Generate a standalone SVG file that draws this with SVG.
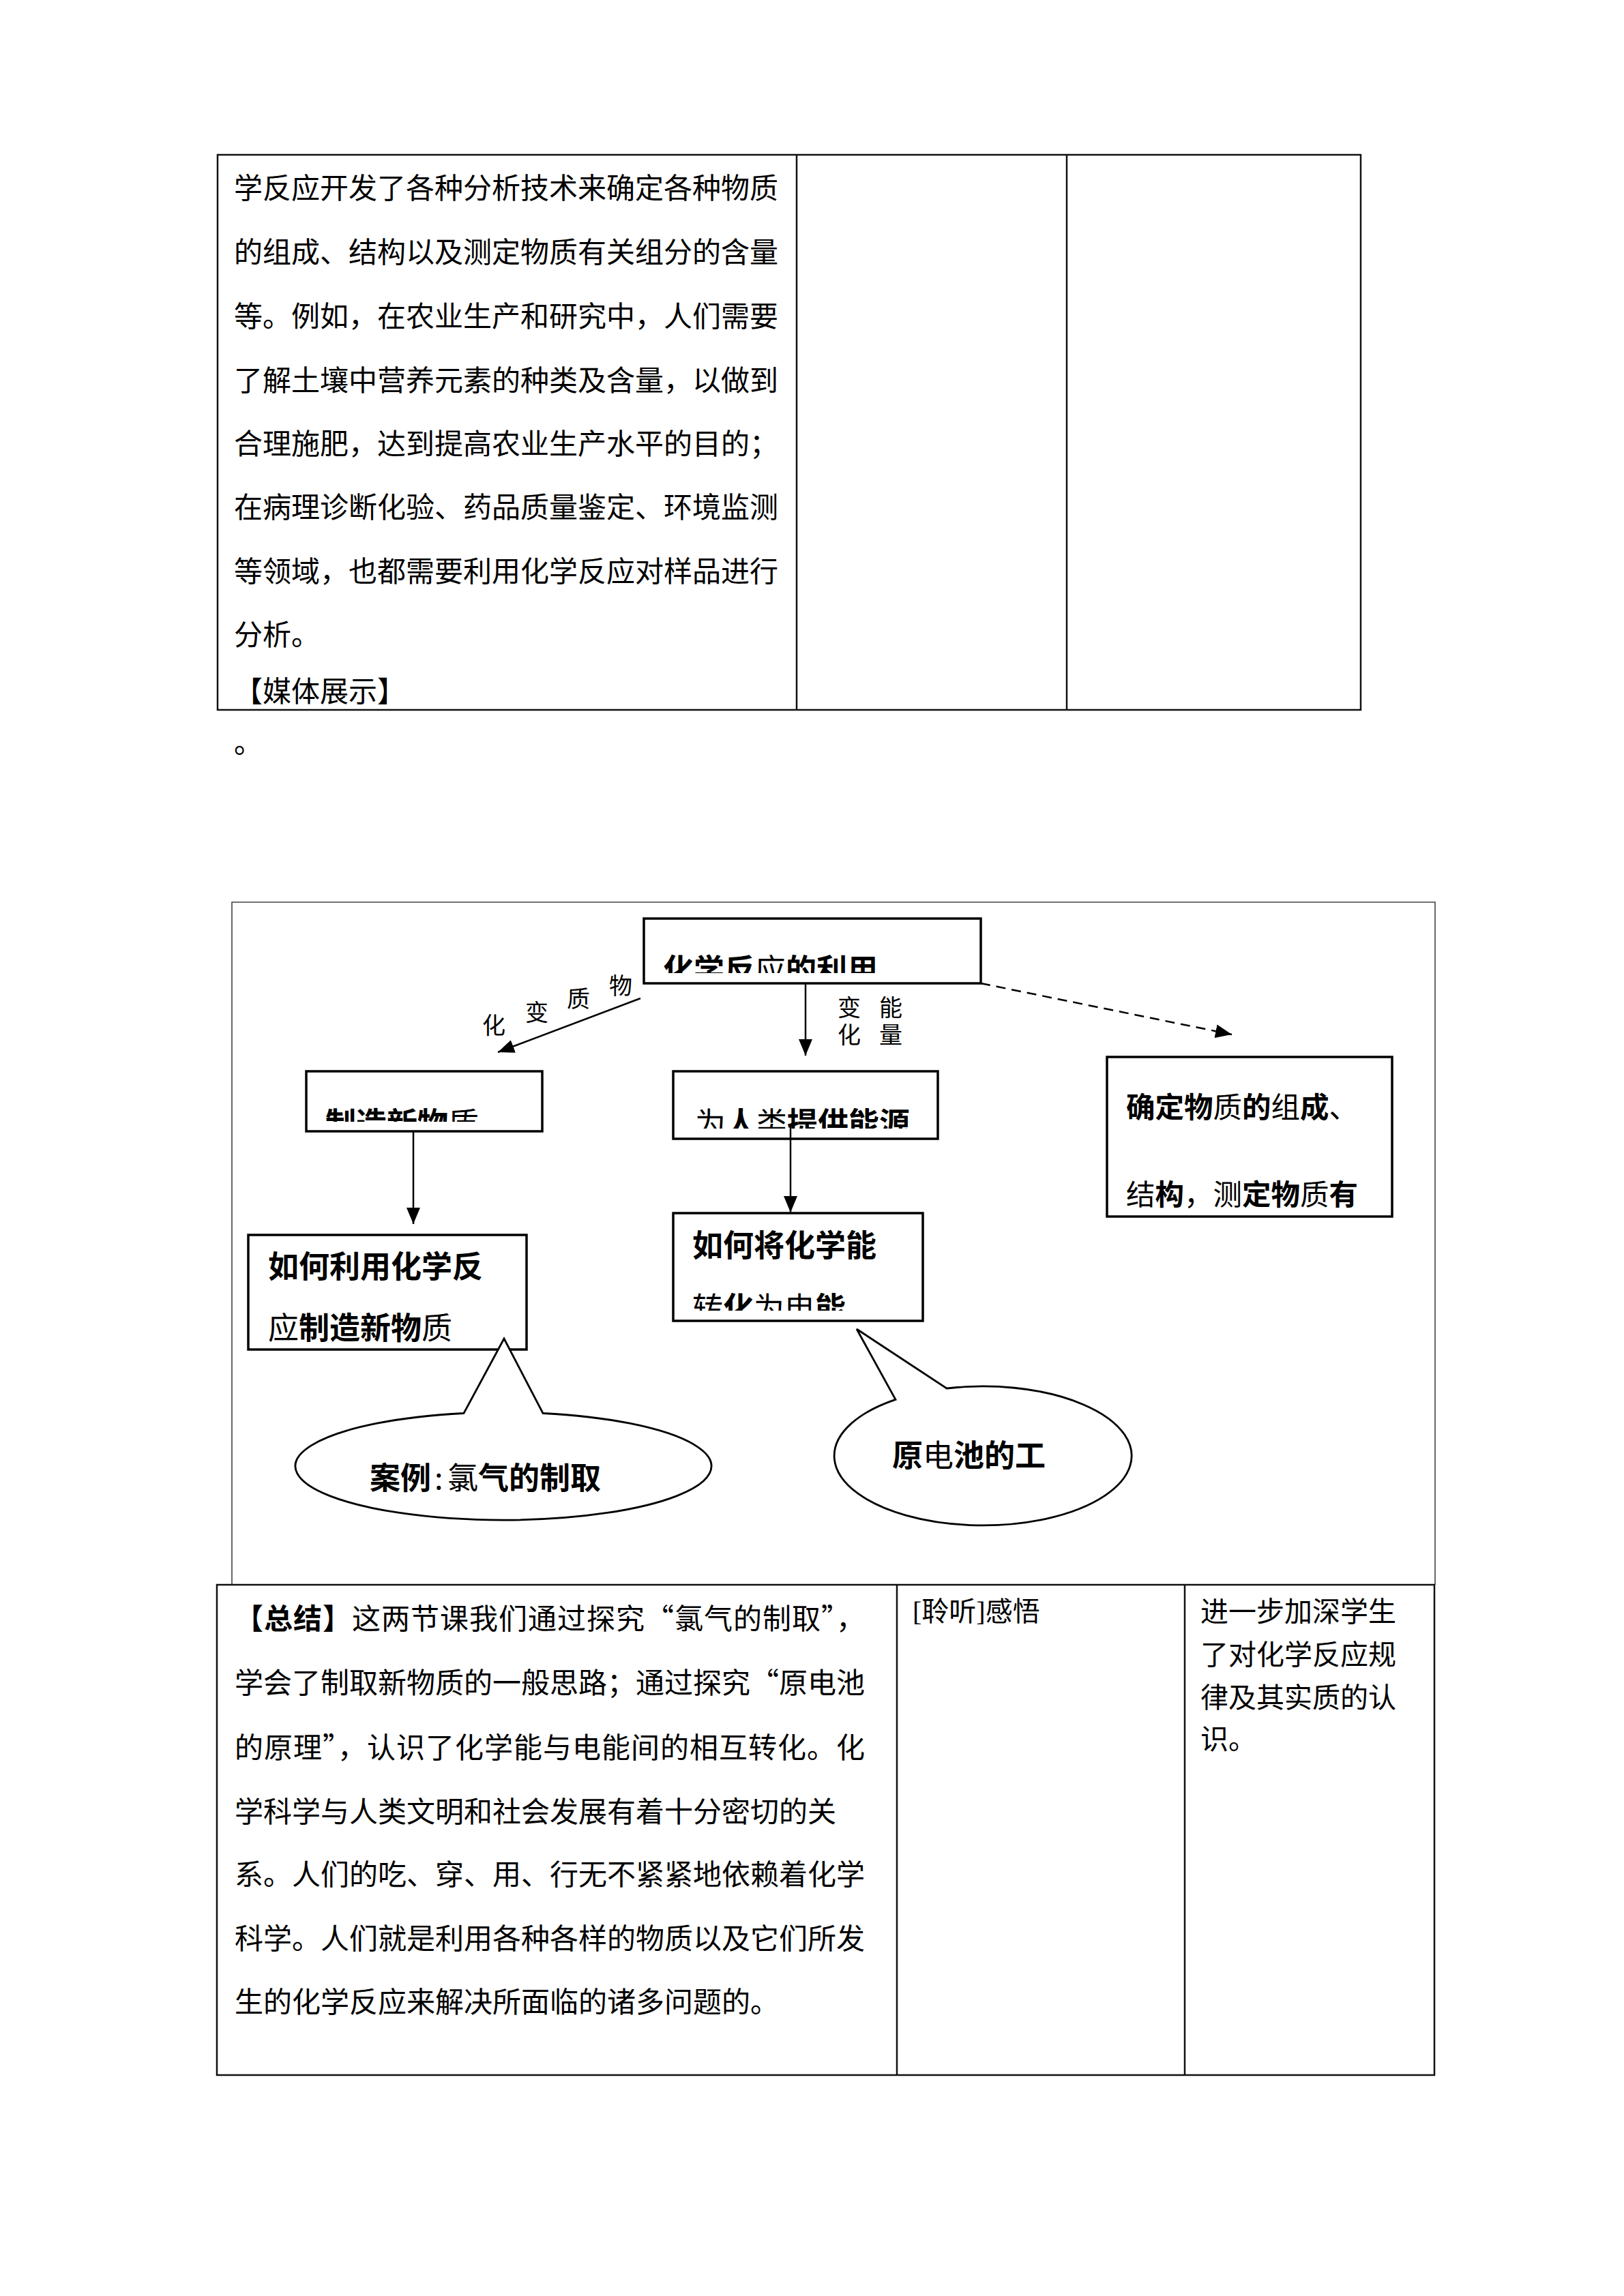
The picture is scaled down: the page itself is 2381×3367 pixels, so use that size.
<svg xmlns="http://www.w3.org/2000/svg" width="2381" height="3367" viewBox="0 0 2381 3367">
<style>
text{font-family:"Noto Sans CJK SC","Noto Sans CJK JP",sans-serif;fill:#000}
.t{font-size:42px}
.b{font-weight:bold}
.tbl{fill:none;stroke:#111;stroke-width:2.5}
.frame{fill:none;stroke:#444;stroke-width:1.6}
.box{fill:#fff;stroke:#000;stroke-width:3.5}
.d{font-size:45px}
.d2{font-size:42.5px}
.lbl{font-size:34px;text-anchor:middle}
.vl{font-size:34px;writing-mode:vertical-rl;letter-spacing:6px}
.bub{fill:#fff;stroke:#000;stroke-width:2.8;stroke-linejoin:miter}
.con{fill:none;stroke:#000;stroke-width:2.5}
.dash{stroke-dasharray:14 9}
.ser{font-family:"Liberation Serif","Noto Sans CJK SC",serif;font-size:40px}
.r{font-size:41px}
</style>
<defs>
<marker id="ah" markerUnits="userSpaceOnUse" viewBox="0 0 24 20" markerWidth="24" markerHeight="20" refX="24" refY="10" orient="auto"><path d="M0,0L24,10L0,20z" fill="#000"/></marker>
<clipPath id="c1"><rect x="944" y="1347" width="494" height="80"/></clipPath>
<clipPath id="c2"><rect x="449" y="1571" width="346" height="74"/></clipPath>
<clipPath id="c3"><rect x="987" y="1571" width="388" height="84"/></clipPath>
<clipPath id="c4"><rect x="987" y="1860" width="366" height="62"/></clipPath>
</defs>

<g id="top-table">
<rect class="tbl" x="319" y="227" width="1676" height="814"/>
<line class="tbl" x1="1168" y1="227" x2="1168" y2="1041"/>
<line class="tbl" x1="1564" y1="227" x2="1564" y2="1041"/>
<text class="t" x="343" y="291" textLength="798" lengthAdjust="spacing">学反应开发了各种分析技术来确定各种物质</text>
<text class="t" x="343" y="385" textLength="798" lengthAdjust="spacing">的组成、结构以及测定物质有关组分的含量</text>
<text class="t" x="343" y="479" textLength="798" lengthAdjust="spacing">等。例如，在农业生产和研究中，人们需要</text>
<text class="t" x="343" y="573" textLength="798" lengthAdjust="spacing">了解土壤中营养元素的种类及含量，以做到</text>
<text class="t" x="343" y="666" textLength="798" lengthAdjust="spacing">合理施肥，达到提高农业生产水平的目的；</text>
<text class="t" x="343" y="759" textLength="798" lengthAdjust="spacing">在病理诊断化验、药品质量鉴定、环境监测</text>
<text class="t" x="343" y="853" textLength="798" lengthAdjust="spacing">等领域，也都需要利用化学反应对样品进行</text>
<text class="t" x="343" y="946">分析。</text>
<text class="t" x="343" y="1029">【媒体展示】</text>
</g>
<text class="t" x="343" y="1104">。</text>

<g id="diagram-frame">
<polyline class="frame" points="340,2324 340,1323 2104,1323 2104,2324"/>
</g>

<g id="n-root">
<rect class="box" x="944" y="1347" width="494" height="95"/>
<text class="d b" x="972" y="1439" clip-path="url(#c1)">化学反<tspan font-weight="normal">应</tspan>的利用</text>
</g>
<g id="n-make">
<rect class="box" x="449" y="1571" width="346" height="88"/>
<text class="d b" x="477" y="1664" clip-path="url(#c2)">制造新物<tspan font-weight="normal">质</tspan></text>
</g>
<g id="n-energy">
<rect class="box" x="987" y="1571" width="388" height="99"/>
<text class="d" x="1019" y="1664" clip-path="url(#c3)">为<tspan class="b">人</tspan>类<tspan class="b">提供能源</tspan></text>
</g>
<g id="n-analyse">
<rect class="box" x="1623" y="1550" width="418" height="234"/>
<text class="d2" x="1651" y="1639"><tspan class="b">确定物</tspan>质<tspan class="b">的</tspan>组<tspan class="b">成</tspan>、</text>
<text class="d2" x="1651" y="1767">结<tspan class="b">构</tspan>，测<tspan class="b">定物</tspan>质<tspan class="b">有</tspan></text>
</g>
<g id="n-how-make">
<rect class="box" x="364" y="1811" width="408" height="168"/>
<text class="d b" x="393" y="1874">如何利用化学反</text>
<text class="d" x="393" y="1964">应<tspan class="b">制造新物</tspan>质</text>
</g>
<g id="n-how-energy">
<rect class="box" x="987" y="1779" width="366" height="158"/>
<text class="d b" x="1015" y="1843">如何将化学能</text>
<text class="d" x="1015" y="1935" clip-path="url(#c4)">转<tspan class="b">化</tspan>为电<tspan class="b">能</tspan></text>
</g>

<g id="connectors">
<line class="con" x1="939" y1="1464" x2="730" y2="1543" marker-end="url(#ah)"/>
<line class="con" x1="1181" y1="1442" x2="1181" y2="1548" marker-end="url(#ah)"/>
<line class="con dash" x1="1438" y1="1442" x2="1806" y2="1517" marker-end="url(#ah)"/>
<line class="con" x1="606" y1="1659" x2="606" y2="1795" marker-end="url(#ah)"/>
<line class="con" x1="1159" y1="1652" x2="1159" y2="1778" marker-end="url(#ah)"/>
<g id="label-matter">
<text class="lbl" x="724" y="1516">化</text>
<text class="lbl" x="787" y="1497">变</text>
<text class="lbl" x="848" y="1477">质</text>
<text class="lbl" x="910" y="1458">物</text>
</g>
<g id="label-energy">
<text class="vl" x="1306" y="1460">能量</text>
<text class="vl" x="1245" y="1460">变化</text>
</g>
</g>

<g id="n-case">
<path class="bub" d="M796,2072.5A305,79 0 1 1 680,2072.5L739,1963Z"/>
<text class="d" y="2184"><tspan class="b" x="542">案例</tspan><tspan x="637">:</tspan><tspan x="656">氯</tspan><tspan class="b">气的制取</tspan></text>
</g>
<g id="n-cell">
<path class="bub" d="M1388,2036A218,102 0 1 1 1313,2052.4L1256,1949Z"/>
<text class="d" x="1308" y="2151"><tspan class="b">原</tspan>电<tspan class="b">池的工</tspan></text>
</g>

<g id="bottom-table">
<rect class="tbl" x="318" y="2324" width="1785" height="719"/>
<line class="tbl" x1="1315" y1="2324" x2="1315" y2="3043"/>
<line class="tbl" x1="1737" y1="2324" x2="1737" y2="3043"/>
<text class="t" x="344" y="2389" textLength="924" lengthAdjust="spacing"><tspan class="b">【总结】</tspan>这两节课我们通过探究“氯气的制取”，</text>
<text class="t" x="344" y="2483" textLength="924" lengthAdjust="spacing">学会了制取新物质的一般思路；通过探究“原电池</text>
<text class="t" x="344" y="2578" textLength="924" lengthAdjust="spacing">的原理”，认识了化学能与电能间的相互转化。化</text>
<text class="t" x="344" y="2672" textLength="882" lengthAdjust="spacing">学科学与人类文明和社会发展有着十分密切的关</text>
<text class="t" x="344" y="2764" textLength="924" lengthAdjust="spacing">系。人们的吃、穿、用、行无不紧紧地依赖着化学</text>
<text class="t" x="344" y="2858" textLength="924" lengthAdjust="spacing">科学。人们就是利用各种各样的物质以及它们所发</text>
<text class="t" x="344" y="2951">生的化学反应来解决所面临的诸多问题的。</text>
<text class="ser" x="1338" y="2377">[聆听]感悟</text>
<text class="r" x="1760" y="2378">进一步加深学生</text>
<text class="r" x="1760" y="2441">了对化学反应规</text>
<text class="r" x="1760" y="2504">律及其实质的认</text>
<text class="r" x="1760" y="2565">识。</text>
</g>
</svg>
